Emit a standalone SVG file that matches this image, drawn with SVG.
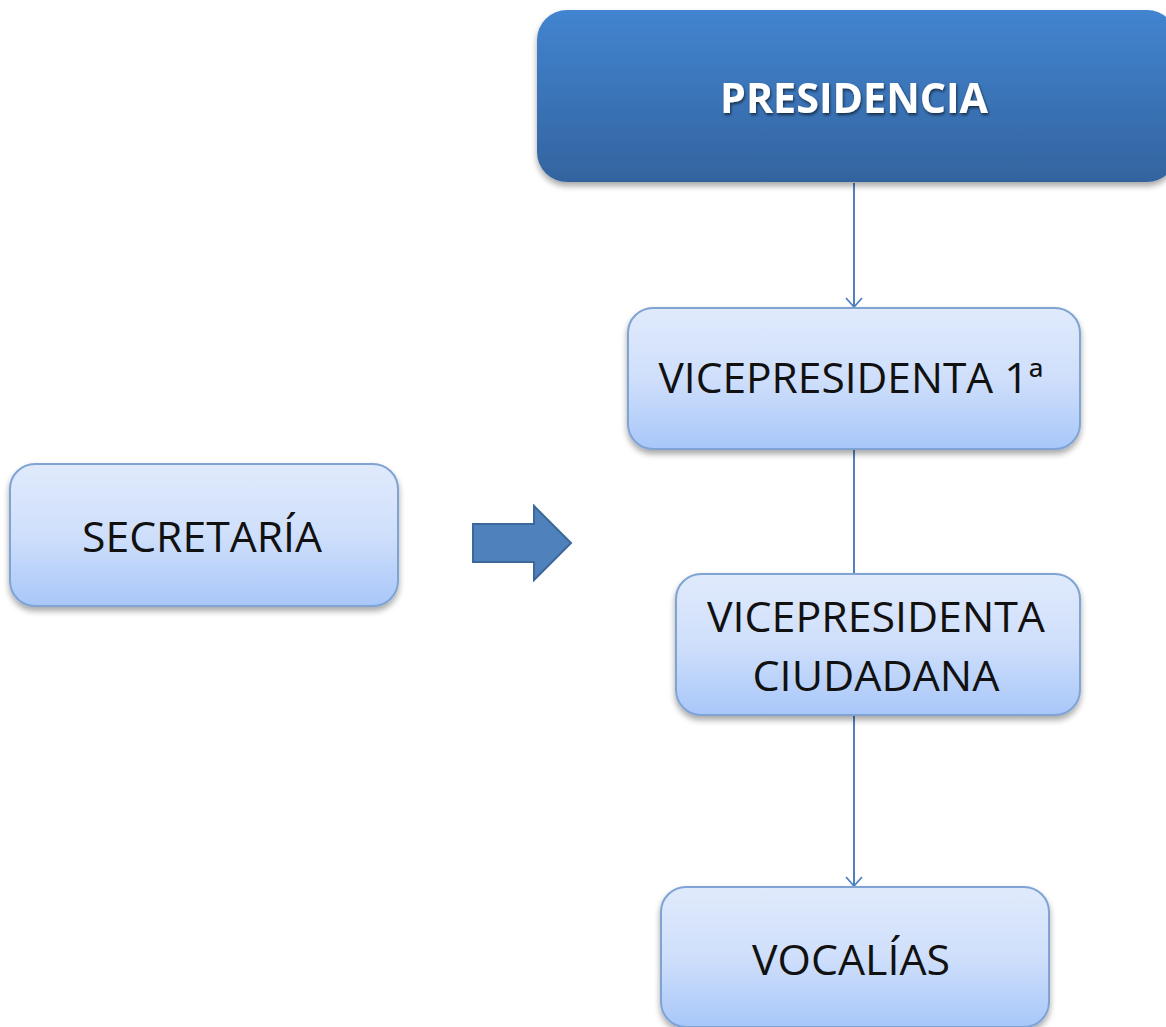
<svg xmlns="http://www.w3.org/2000/svg" width="1166" height="1027" viewBox="0 0 1166 1027">
<defs>
<linearGradient id="gLight" x1="0" y1="0" x2="0" y2="1">
<stop offset="0" stop-color="#e0eafc"/>
<stop offset="0.5" stop-color="#cfdffb"/>
<stop offset="1" stop-color="#a8c7f9"/>
</linearGradient>
<linearGradient id="gDark" x1="0" y1="0" x2="0" y2="1">
<stop offset="0" stop-color="#4284d0"/>
<stop offset="1" stop-color="#33649f"/>
</linearGradient>
<filter id="shadow" x="-10%" y="-10%" width="120%" height="130%">
<feGaussianBlur in="SourceAlpha" stdDeviation="3"/>
<feOffset dx="0" dy="4" result="b"/>
<feComponentTransfer><feFuncA type="linear" slope="0.35"/></feComponentTransfer>
<feMerge><feMergeNode/><feMergeNode in="SourceGraphic"/></feMerge>
</filter>
<filter id="tshadow" x="-10%" y="-20%" width="120%" height="150%">
<feGaussianBlur in="SourceAlpha" stdDeviation="1.5"/>
<feOffset dx="1" dy="2"/>
<feComponentTransfer><feFuncA type="linear" slope="0.6"/></feComponentTransfer>
<feMerge><feMergeNode/><feMergeNode in="SourceGraphic"/></feMerge>
</filter>
<marker id="vhead" markerWidth="20" markerHeight="20" refX="10" refY="10" orient="auto" markerUnits="userSpaceOnUse">
<path d="M1,2 L10,10 L1,18" fill="none" stroke="#4f81bd" stroke-width="1.8"/>
</marker>
</defs>
<style>
.node{fill:url(#gLight);stroke:#7fa3d3;stroke-width:2;filter:url(#shadow)}
.lbl{font-family:"Open Sans","Noto Sans","Liberation Sans",sans-serif;font-size:42px;fill:#111111;text-anchor:middle}
.conn{stroke:#4f81bd;stroke-width:2;fill:none}
</style>
<rect width="1166" height="1027" fill="#ffffff"/>
<g id="connectors">
<line class="conn" x1="854" y1="183" x2="854" y2="307" marker-end="url(#vhead)"/>
<line class="conn" x1="854" y1="450" x2="854" y2="574"/>
<line class="conn" x1="854" y1="716" x2="854" y2="886" marker-end="url(#vhead)"/>
</g>
<g id="presidencia">
<rect x="537" y="10" width="640" height="172" rx="30" ry="30" fill="url(#gDark)" filter="url(#shadow)"/>
<text x="854" y="113" font-family="'Open Sans','Noto Sans','Liberation Sans',sans-serif" font-size="42" font-weight="bold" fill="#ffffff" text-anchor="middle" textLength="268" lengthAdjust="spacingAndGlyphs" filter="url(#tshadow)">PRESIDENCIA</text>
</g>
<g id="vicepresidenta1">
<rect class="node" x="628" y="308" width="452" height="141" rx="25" ry="25"/>
<text class="lbl" x="851" y="393" textLength="385" lengthAdjust="spacingAndGlyphs">VICEPRESIDENTA 1ª</text>
</g>
<g id="secretaria">
<rect class="node" x="10" y="464" width="388" height="142" rx="25" ry="25"/>
<text class="lbl" x="202" y="552" textLength="240" lengthAdjust="spacingAndGlyphs">SECRETARÍA</text>
</g>
<g id="blockarrow">
<path d="M473,524 L534,524 L534,506 L571,543 L534,580 L534,562 L473,562 Z" fill="#4f81bd" stroke="#3c6899" stroke-width="2"/>
</g>
<g id="vicepresidentaciudadana">
<rect class="node" x="676" y="574" width="404" height="141" rx="25" ry="25"/>
<text class="lbl" x="876" y="632" textLength="338" lengthAdjust="spacingAndGlyphs">VICEPRESIDENTA</text>
<text class="lbl" x="876" y="691" textLength="247" lengthAdjust="spacingAndGlyphs">CIUDADANA</text>
</g>
<g id="vocalias">
<rect class="node" x="661" y="887" width="388" height="140" rx="25" ry="25"/>
<text class="lbl" x="851" y="975" textLength="198" lengthAdjust="spacingAndGlyphs">VOCALÍAS</text>
</g>
</svg>
